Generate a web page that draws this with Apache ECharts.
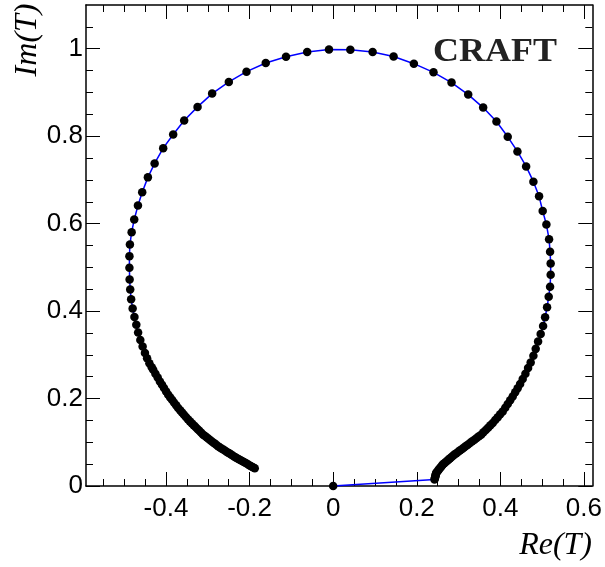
<!DOCTYPE html>
<html>
<head>
<meta charset="utf-8">
<script src="https://cdn.jsdelivr.net/npm/echarts@6/dist/echarts.min.js"></script>
<style>
  html, body { margin: 0; padding: 0; background: #fff; }
  #chart { width: 605px; height: 567px; }
</style>
</head>
<body>
<div id="chart"></div>
<script>
// Argand diagram: real and imaginary parts of the amplitude T, in scan order
const reT = [
  0,
  0.2425, 0.2432, 0.2439, 0.2446, 0.2452, 0.2459, 0.2466, 0.2489, 0.2511, 0.2534,
  0.2556, 0.2579, 0.2601, 0.2624, 0.2659, 0.2694, 0.2729, 0.2764, 0.2798, 0.2833,
  0.2868, 0.2903, 0.2948, 0.2994, 0.3039, 0.3085, 0.3130, 0.3176, 0.3221, 0.3274,
  0.3328, 0.3381, 0.3434, 0.3488, 0.3541, 0.3596, 0.3652, 0.3707, 0.3763, 0.3818,
  0.3878, 0.3938, 0.3997, 0.4057, 0.4117, 0.4177, 0.4236, 0.4296, 0.4355, 0.4414,
  0.4473,
  0.4535, 0.4600, 0.4664, 0.4726, 0.4791, 0.4846, 0.4903, 0.4965, 0.5023, 0.5071,
  0.5118, 0.5157, 0.5190, 0.5204, 0.5204, 0.5190, 0.5166, 0.5102, 0.5013, 0.4927,
  0.4791, 0.4617, 0.4409, 0.4177, 0.3907, 0.3589, 0.3231, 0.2832, 0.2401, 0.1931,
  0.1446, 0.0944, 0.0411, -0.0100, -0.0621, -0.1128, -0.1613, -0.2074, -0.2497, -0.2896,
  -0.3245, -0.3565, -0.3828, -0.4067, -0.4272, -0.4433, -0.4569, -0.4671, -0.4760, -0.4822,
  -0.4863, -0.4875, -0.4875, -0.4870, -0.4856, -0.4834, -0.4798, -0.4755, -0.4710, -0.4667,
  -0.4614, -0.4559, -0.4504, -0.4452,
  -0.4397, -0.4342, -0.4306, -0.4253, -0.4199, -0.4146, -0.4096, -0.4047, -0.3997, -0.3947,
  -0.3899, -0.3852, -0.3804, -0.3757, -0.3709, -0.3662, -0.3616, -0.3569, -0.3522, -0.3476,
  -0.3429, -0.3384, -0.3338, -0.3293, -0.3247, -0.3202, -0.3156, -0.3111, -0.3066, -0.3022,
  -0.2977, -0.2932, -0.2887, -0.2843, -0.2798, -0.2753, -0.2709, -0.2664, -0.2620, -0.2576,
  -0.2531, -0.2487, -0.2443, -0.2398, -0.2354, -0.2311, -0.2267, -0.2224, -0.2180, -0.2137,
  -0.2093, -0.2050, -0.2006, -0.1963, -0.1919, -0.1876
];
const imT = [
  0,
  0.0148, 0.0174, 0.0199, 0.0225, 0.0250, 0.0276, 0.0301, 0.0328, 0.0355, 0.0382,
  0.0409, 0.0436, 0.0463, 0.0490, 0.0519, 0.0547, 0.0576, 0.0604, 0.0633, 0.0661,
  0.0690, 0.0718, 0.0751, 0.0783, 0.0816, 0.0848, 0.0881, 0.0913, 0.0946, 0.0984,
  0.1022, 0.1060, 0.1098, 0.1136, 0.1174, 0.1227, 0.1281, 0.1334, 0.1388, 0.1441,
  0.1507, 0.1574, 0.1640, 0.1706, 0.1792, 0.1877, 0.1963, 0.2048, 0.2142, 0.2237,
  0.2331,
  0.2445, 0.2566, 0.2696, 0.2823, 0.2976, 0.3136, 0.3302, 0.3478, 0.3660, 0.3859,
  0.4087, 0.4328, 0.4556, 0.4830, 0.5090, 0.5355, 0.5644, 0.5979, 0.6290, 0.6625,
  0.6960, 0.7309, 0.7651, 0.7986, 0.8335, 0.8654, 0.8951, 0.9225, 0.9460, 0.9658,
  0.9824, 0.9925, 0.9977, 0.9982, 0.9925, 0.9817, 0.9674, 0.9475, 0.9241, 0.8974,
  0.8670, 0.8358, 0.8039, 0.7726, 0.7377, 0.7058, 0.6716, 0.6413, 0.6094, 0.5804,
  0.5523, 0.5257, 0.4990, 0.4725, 0.4493, 0.4271, 0.4059, 0.3865, 0.3685, 0.3512,
  0.3341, 0.3188, 0.3044, 0.2924,
  0.2805, 0.2716, 0.2657, 0.2568, 0.2479, 0.2390, 0.2314, 0.2239, 0.2163, 0.2087,
  0.2026, 0.1965, 0.1905, 0.1844, 0.1783, 0.1732, 0.1681, 0.1631, 0.1580, 0.1529,
  0.1478, 0.1435, 0.1391, 0.1348, 0.1304, 0.1261, 0.1217, 0.1174, 0.1141, 0.1108,
  0.1074, 0.1041, 0.1008, 0.0975, 0.0941, 0.0908, 0.0881, 0.0854, 0.0827, 0.0801,
  0.0774, 0.0747, 0.0720, 0.0693, 0.0666, 0.0642, 0.0619, 0.0595, 0.0571, 0.0548,
  0.0524, 0.0501, 0.0477, 0.0453, 0.0430, 0.0406
];

// Axis ranges and tick values
const xRange = [-0.5914, 0.62];
const yRange = [0, 1.1];
const xMajorTicks = [-0.4, -0.2, 0, 0.2, 0.4, 0.6];
const xMinorTicks = [-0.55, -0.5, -0.45, -0.35, -0.3, -0.25, -0.15, -0.1, -0.05,
                     0.05, 0.1, 0.15, 0.25, 0.3, 0.35, 0.45, 0.5, 0.55];
const yMajorTicks = [0, 0.2, 0.4, 0.6, 0.8, 1];
const yMinorTicks = [0.05, 0.1, 0.15, 0.25, 0.3, 0.35, 0.45, 0.5, 0.55,
                     0.65, 0.7, 0.75, 0.85, 0.9, 0.95, 1.05];

const points = reT.map((x, i) => [x, imT[i]]);

const fmt = v => String(Number(Number(v).toFixed(2)));
const tickLine = { color: '#000', width: 1 };
const frameLine = { color: '#000', width: 1.5 };
const labelFont = { color: '#000', fontSize: 26, fontFamily: '"Liberation Sans", Arial, sans-serif' };

function xAxisDef(position, major, showLine, showLabel) {
  return {
    type: 'value', position: position, min: xRange[0], max: xRange[1],
    axisLine: { show: showLine, onZero: false, lineStyle: frameLine },
    axisTick: { show: true, inside: true, length: major ? 14 : 7,
                customValues: major ? xMajorTicks : xMinorTicks, lineStyle: tickLine },
    axisLabel: Object.assign({ show: showLabel, customValues: xMajorTicks, margin: 10,
                               formatter: fmt }, labelFont),
    splitLine: { show: false }
  };
}
function yAxisDef(position, major, showLine, showLabel) {
  return {
    type: 'value', position: position, min: yRange[0], max: yRange[1],
    axisLine: { show: showLine, onZero: false, lineStyle: frameLine },
    axisTick: { show: true, inside: true, length: major ? 14 : 7,
                customValues: major ? yMajorTicks : yMinorTicks, lineStyle: tickLine },
    axisLabel: Object.assign({ show: showLabel, customValues: yMajorTicks, margin: 3,
                               formatter: fmt }, labelFont),
    splitLine: { show: false }
  };
}

const chart = echarts.init(document.getElementById('chart'), null, { renderer: 'canvas' });
chart.setOption({
  animation: false,
  backgroundColor: '#fff',
  grid: { left: 86, right: 12, top: 5, bottom: 81, containLabel: false },
  xAxis: [
    xAxisDef('bottom', true, true, true),
    xAxisDef('bottom', false, false, false),
    xAxisDef('top', true, true, false),
    xAxisDef('top', false, false, false)
  ],
  yAxis: [
    yAxisDef('left', true, true, true),
    yAxisDef('left', false, false, false),
    yAxisDef('right', true, true, false),
    yAxisDef('right', false, false, false)
  ],
  series: [{
    type: 'line',
    xAxisIndex: 0, yAxisIndex: 0,
    data: points,
    clip: false,
    showSymbol: true,
    showAllSymbol: true,
    symbol: 'circle',
    symbolSize: 8.5,
    itemStyle: { color: '#000' },
    lineStyle: { color: '#0000ff', width: 1.5 },
    z: 5
  }],
  graphic: [
    {
      type: 'text', x: 592, y: 546,
      style: { text: 'Re(T)', fill: '#000', align: 'right', verticalAlign: 'middle',
               font: 'italic 32px "Liberation Serif", "Times New Roman", serif' }
    },
    {
      type: 'text', x: 27.5, y: 3.5, rotation: Math.PI / 2,
      style: { text: 'Im(T)', fill: '#000', align: 'right', verticalAlign: 'middle',
               font: 'italic 32px "Liberation Serif", "Times New Roman", serif' }
    },
    {
      type: 'text', x: 433, y: 52, scaleX: 1.09,
      style: { text: 'CRAFT', fill: '#222', align: 'left', verticalAlign: 'middle',
               font: 'bold 33px "Liberation Serif", "Times New Roman", serif' }
    }
  ]
});
</script>
</body>
</html>
